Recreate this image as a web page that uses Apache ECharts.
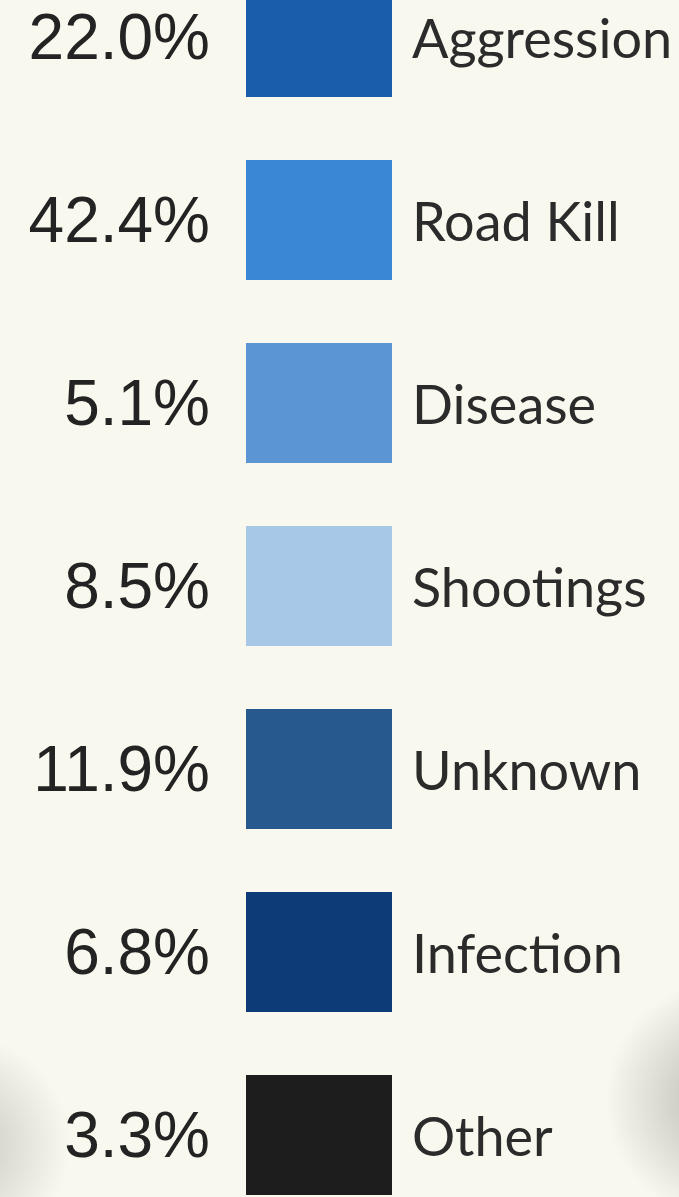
<!DOCTYPE html>
<html>
<head>
<meta charset="utf-8">
<style>
  html, body { margin: 0; padding: 0; background: #f9f8ee; }
  #chart { width: 679px; height: 1197px; }
</style>
<script src="https://cdn.jsdelivr.net/npm/echarts@6/dist/echarts.min.js"></script>
</head>
<body>
<div id="chart"></div>
<script>
// Causes of death, share of all recorded cases (%)
const causes = ['Aggression', 'Road Kill', 'Disease', 'Shootings', 'Unknown', 'Infection', 'Other'];
const shares = [22.0, 42.4, 5.1, 8.5, 11.9, 6.8, 3.3];
const swatchColors = ['#1a5eab', '#3a87d6', '#5b95d4', '#a8c8e8', '#27598f', '#0d3b78', '#1d1d1d'];

const chart = echarts.init(document.getElementById('chart'));

const rows = causes.map((c, i) => ({
  value: ['share', c, shares[i]],
  itemStyle: { color: swatchColors[i], opacity: 1 }
}));

chart.setOption({
  backgroundColor: '#f9f8ee',
  animation: false,
  graphic: [
    {
      type: 'circle', silent: true, z: -1,
      shape: { cx: -40, cy: 1145, r: 110 },
      style: {
        fill: {
          type: 'radial', x: 0.5, y: 0.5, r: 0.5,
          colorStops: [
            { offset: 0, color: 'rgba(150,150,140,0.5)' },
            { offset: 1, color: 'rgba(150,150,140,0)' }
          ]
        }
      }
    },
    {
      type: 'circle', silent: true, z: -1,
      shape: { cx: 725, cy: 1100, r: 120 },
      style: {
        fill: {
          type: 'radial', x: 0.5, y: 0.5, r: 0.5,
          colorStops: [
            { offset: 0, color: 'rgba(140,140,132,0.6)' },
            { offset: 1, color: 'rgba(140,140,132,0)' }
          ]
        }
      }
    }
  ],
  grid: { left: 246, right: 287, top: 37, bottom: 62 },
  xAxis: {
    type: 'category',
    data: ['share'],
    show: false
  },
  yAxis: {
    type: 'category',
    data: causes,
    inverse: true,
    boundaryGap: false,
    show: false
  },
  series: [
    {
      // swatches with the share printed to their left
      type: 'scatter',
      symbol: 'rect',
      symbolSize: [146, 120],
      data: rows,
      encode: { x: 0, y: 1 },
      label: {
        show: true,
        position: 'left',
        distance: 36,
        formatter: p => p.value[2].toFixed(1) + '%',
        color: '#232323',
        fontFamily: 'Liberation Sans',
        fontSize: 64,
        offset: [0, 4]
      },
      emphasis: { disabled: true }
    },
    {
      // cause names to the right of each swatch
      type: 'scatter',
      symbol: 'rect',
      symbolSize: [146, 120],
      data: rows,
      encode: { x: 0, y: 1 },
      label: {
        show: true,
        position: 'right',
        distance: 20,
        formatter: p => p.value[1],
        color: '#2b2b2b',
        fontFamily: 'Lato',
        fontSize: 54,
        offset: [0, 4]
      },
      emphasis: { disabled: true }
    }
  ]
});
</script>
</body>
</html>
